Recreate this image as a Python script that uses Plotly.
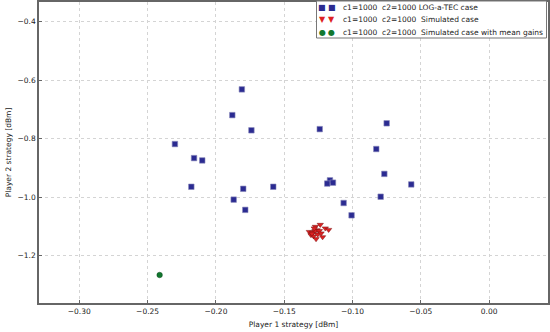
import plotly.graph_objects as go

# LOG-a-TEC case (blue squares)
log_x = [-0.181, -0.188, -0.174, -0.124, -0.230, -0.216, -0.210, -0.218, -0.180, -0.158,
         -0.187, -0.1785, -0.075, -0.0826, -0.0767, -0.057, -0.1165, -0.1185, -0.1143,
         -0.0794, -0.1065, -0.1007]
log_y = [-0.632, -0.720, -0.772, -0.768, -0.819, -0.867, -0.875, -0.965, -0.972, -0.965,
         -1.009, -1.044, -0.748, -0.836, -0.921, -0.957, -0.943, -0.954, -0.951,
         -0.999, -1.0205, -1.0626]

# Simulated case (red triangles)
sim_x = [-0.1236, -0.1199, -0.1175, -0.1272, -0.1260, -0.1316, -0.1292, -0.1275, -0.1243,
         -0.1304, -0.1285, -0.1255, -0.1267, -0.1219, -0.1230, -0.1280, -0.1297]
sim_y = [-1.0947, -1.107, -1.112, -1.1015, -1.113, -1.119, -1.121, -1.116, -1.116,
         -1.130, -1.134, -1.128, -1.1436, -1.137, -1.124, -1.107, -1.125]

# Simulated case with mean gains (green circle)
mean_x = [-0.2412]
mean_y = [-1.2667]

names = ["c1=1000\u00a0 c2=1000 LOG-a-TEC case",
         "c1=1000\u00a0 c2=1000\u00a0 Simulated case",
         "c1=1000\u00a0 c2=1000\u00a0 Simulated case with mean gains"]
colors = ["#2b2b91", "#dd2222", "#11772e"]
legend_glyphs = ["\u25a0", "\u25bc", "\u25cf"]

x_ticks = [-0.30, -0.25, -0.20, -0.15, -0.10, -0.05, 0.00]
y_ticks = [-1.2, -1.0, -0.8, -0.6, -0.4]

FS = 7.5

fig = go.Figure()
fig.add_trace(go.Scatter(x=log_x, y=log_y, mode="markers", name=names[0],
                         marker=dict(symbol="square", size=5.5, color=colors[0],
                                     line=dict(color="#8888bb", width=0.6))))
fig.add_trace(go.Scatter(x=sim_x, y=sim_y, mode="markers", name=names[1],
                         marker=dict(symbol="triangle-down", size=5.5, color=colors[1],
                                     line=dict(color="#7a1010", width=0.5))))
fig.add_trace(go.Scatter(x=mean_x, y=mean_y, mode="markers", name=names[2],
                         marker=dict(symbol="circle", size=5.5, color=colors[2],
                                     line=dict(color="#0a4a1c", width=0.5))))

axis_common = dict(showline=True, linecolor="#666666", linewidth=1.5, mirror=True,
                   showgrid=True, gridcolor="#d4d4d4", griddash="dot", gridwidth=1,
                   zeroline=False, ticks="inside", ticklen=3, tickcolor="#666666",
                   tickfont=dict(size=FS, color="#222222"), automargin=False)

fig.update_xaxes(range=[-0.3295, 0.0431], tickvals=x_ticks,
                 ticktext=["\u22120.30", "\u22120.25", "\u22120.20", "\u22120.15", "\u22120.10", "\u22120.05", "0.00"],
                 title=dict(text="Player 1 strategy [dBm]", font=dict(size=FS, color="#222222"), standoff=7),
                 **axis_common)
fig.update_yaxes(range=[-1.3624, -0.3333], tickvals=y_ticks,
                 ticktext=["\u22121.2", "\u22121.0", "\u22120.8", "\u22120.6", "\u22120.4"],
                 title=dict(text="Player 2 strategy [dBm]", font=dict(size=FS, color="#222222"), standoff=5),
                 **axis_common)

# Hand-built legend (matplotlib-style, compact rows, two markers per entry)
L, R, T, B = 39, 548, 2, 303
def px(x):
    return (x - L) / (R - L)
def py(y):
    return (B - y) / (B - T)

fig.add_shape(type="rect", xref="paper", yref="paper",
              x0=px(316.5), x1=px(546.5), y0=py(38), y1=py(1),
              line=dict(color="#777777", width=1), fillcolor="white", layer="above")
row_y = [7.5, 20, 32.5]
for name, col, g, ry in zip(names, colors, legend_glyphs, row_y):
    for mx in (322, 331.5):
        fig.add_annotation(xref="paper", yref="paper", x=px(mx), y=py(ry),
                           text=g, showarrow=False, xanchor="center", yanchor="middle",
                           font=dict(size=8, color=col, family="DejaVu Sans"))
    fig.add_annotation(xref="paper", yref="paper", x=px(340.5), y=py(ry),
                       text=name, showarrow=False, xanchor="left", yanchor="middle",
                       font=dict(size=FS, color="#222222", family="DejaVu Sans"))

fig.update_layout(
    width=550, height=332,
    margin=dict(l=L, r=550 - R, t=T, b=332 - B),
    paper_bgcolor="white", plot_bgcolor="white",
    font=dict(family="DejaVu Sans", size=FS, color="#222222"),
    showlegend=False,
)

fig.write_html("out.html", config={"displayModeBar": False},
               post_script="document.body.style.margin='0';document.body.style.overflow='hidden';")
